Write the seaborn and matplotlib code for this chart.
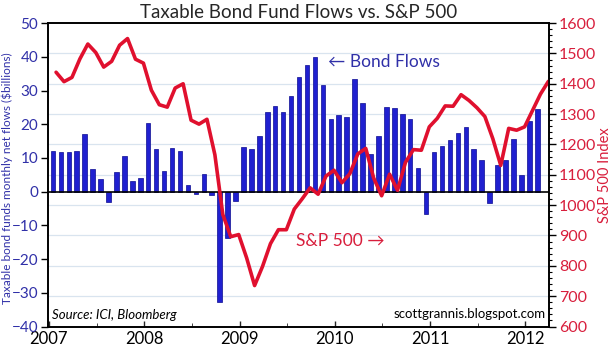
import numpy as np
import pandas as pd
import seaborn as sns
import matplotlib.pyplot as plt
from matplotlib.ticker import MultipleLocator

# Datos: flujos mensuales a fondos de bonos gravables ($bn), ene 2007 - feb 2012
flow_months = pd.date_range('2007-01-01', '2012-02-01', freq='MS')
bond_flows = [12.1, 11.7, 11.9, 12.1, 17.0, 6.8, 3.9, -3.1, 5.8, 10.6, 3.2, 4.0,
              20.4, 12.7, 6.1, 13.0, 12.1, 2.1, -0.7, 5.2, -1.0, -32.6, -13.7, -2.9,
              13.1, 12.8, 16.5, 23.5, 25.4, 23.7, 28.4, 34.0, 37.6, 39.8, 31.5, 21.5,
              22.6, 22.0, 33.4, 26.4, 11.1, 16.6, 25.0, 24.8, 23.0, 21.7, 6.9, -6.7,
              11.9, 13.4, 15.4, 17.5, 19.3, 12.7, 9.4, -3.4, 7.8, 9.4, 15.5, 4.8,
              21.0, 24.6]

# S&P 500 cierre mensual, ene 2007 - mar 2012
sp_months = pd.date_range('2007-01-01', '2012-03-01', freq='MS')
sp500 = [1438, 1407, 1421, 1482, 1531, 1503, 1455, 1474, 1527, 1549, 1481, 1468,
         1379, 1331, 1323, 1386, 1400, 1280, 1267, 1283, 1166, 969, 896, 903,
         826, 735, 798, 873, 919, 919, 987, 1021, 1057, 1036, 1096, 1115,
         1074, 1104, 1169, 1187, 1089, 1031, 1102, 1049, 1141, 1183, 1181, 1258,
         1286, 1327, 1326, 1364, 1345, 1321, 1292, 1219, 1131, 1253, 1247, 1258,
         1312, 1366, 1408]

year_ticks = [2007, 2008, 2009, 2010, 2011, 2012]

blue = '#2020d0'
red = '#e0102e'
label_blue = '#3030a8'
label_red = '#d81e3c'

# barras a mitad de mes, linea a fin de mes (años decimales)
x_bar = flow_months.year + (flow_months.month - 1 + 0.5) / 12
x_sp = sp_months.year + (sp_months.month - 1 + 0.9) / 12

sns.set_style('white')
plt.rcParams['font.family'] = ['Lato', 'DejaVu Sans']

fig = plt.figure(figsize=(6.15, 3.52), dpi=100)
ax = fig.add_axes([0.078, 0.0724, 0.815, 0.862])

# lineas de cuadricula tomadas del eje derecho (600-1600)
def right_to_left(v):
    return (v - 600) / 1000 * 90 - 40

for v in range(700, 1600, 100):
    ax.axhline(right_to_left(v), color='#d9e4ef', lw=0.9, zorder=0)

sns.barplot(x=x_bar, y=bond_flows, native_scale=True, width=0.57, color=blue,
            saturation=1, edgecolor='#0c0c90', linewidth=0.5, errorbar=None,
            ax=ax, zorder=2)
ax.axhline(0, color='black', lw=1.2, zorder=3)

ax.set_xlim(2006.99, 2012.25)
ax.set_ylim(-40, 50)
ax.set_xticks(year_ticks)
ax.set_xticklabels([str(y) for y in year_ticks], fontsize=12, color='black')
ax.xaxis.set_minor_locator(MultipleLocator(0.5))
ax.yaxis.set_major_locator(MultipleLocator(10))
ax.tick_params(axis='y', colors='black', labelcolor=label_blue, labelsize=11,
               direction='out', length=5, width=1, left=True, pad=2)
ax.tick_params(axis='x', direction='in', length=4, width=1, bottom=True, pad=3.5)
ax.tick_params(axis='x', which='minor', direction='in', length=3, bottom=True)
ax.set_xlabel('')
ax.set_ylabel('Taxable bond funds monthly net flows ($billions)', color=label_blue, fontsize=8.5)
ax.yaxis.set_label_coords(-0.069, 0.49)
for s in ax.spines.values():
    s.set_color('black')
    s.set_linewidth(1.2)

ax2 = ax.twinx()
sns.lineplot(x=x_sp, y=sp500, color=red, linewidth=2.6, ax=ax2)
ax2.set_ylim(600, 1600)
ax2.set_xlim(2006.99, 2012.25)
ax2.set_xlabel('')
ax2.yaxis.set_major_locator(MultipleLocator(100))
ax2.yaxis.set_minor_locator(MultipleLocator(20))
ax2.tick_params(axis='y', which='major', colors='black', labelcolor=label_red, labelsize=11.5,
                direction='out', length=5, width=1, right=True, pad=2)
ax2.tick_params(axis='y', which='minor', colors='black', direction='out', length=2.5, width=0.8, right=True)
ax2.set_ylabel('S&P 500 Index', color=label_red, fontsize=10.5)
ax2.yaxis.set_label_coords(1.098, 0.5)
for s in ax2.spines.values():
    s.set_color('black')
    s.set_linewidth(1.2)

ax.set_title('Taxable Bond Fund Flows vs. S&P 500', fontsize=13.5, pad=4)

ax.text(0.559, 0.872, '\u2190 Bond Flows', transform=ax.transAxes, color=label_blue,
        fontsize=12.5, va='center', ha='left')
ax2.text(0.495, 0.282, 'S&P 500 \u2192', transform=ax.transAxes, color=label_red,
         fontsize=12.5, va='center', ha='left')
ax2.text(0.008, 0.038, 'Source: ICI, Bloomberg', transform=ax.transAxes, color='black',
         fontsize=9.5, style='italic', va='center', ha='left')
ax2.text(0.992, 0.04, 'scottgrannis.blogspot.com', transform=ax.transAxes, color='black',
         fontsize=9.5, va='center', ha='right')

plt.savefig('out.png', dpi=100)
